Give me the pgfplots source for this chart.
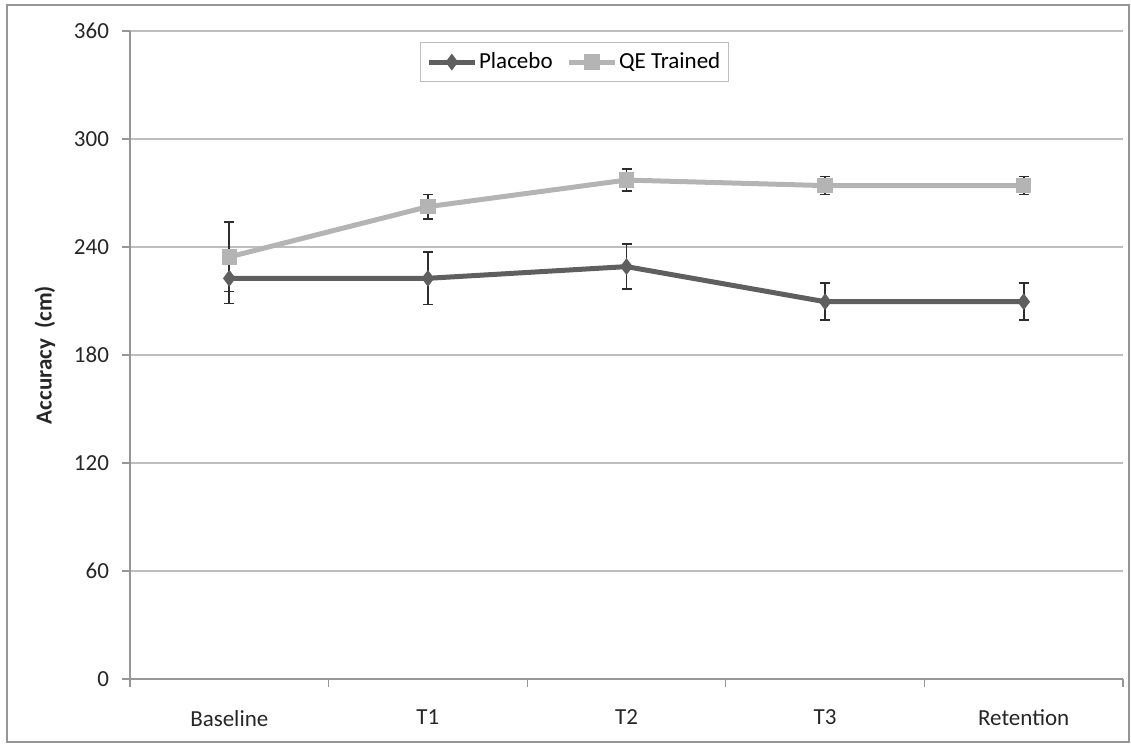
\documentclass[border=0pt]{standalone}
\usepackage{pgfplots}
\pgfplotsset{compat=1.18}
\usepackage{fontspec}
\setmainfont{Carlito}
\definecolor{placebo}{RGB}{95,95,95}
\definecolor{qe}{RGB}{180,180,180}
\definecolor{gridc}{RGB}{190,190,190}
\definecolor{axc}{RGB}{150,150,150}
\definecolor{errc}{RGB}{45,45,45}
\begin{document}
\begin{tikzpicture}
\useasboundingbox (0pt,0pt) rectangle (565.5pt,372pt);
\draw[axc, line width=1pt] (3.5pt,1pt) rectangle (564.5pt,369.5pt);
\begin{axis}[
  at={(65pt,32.5pt)}, anchor=south west,
  scale only axis, width=496.5pt, height=324pt,
  xmin=-0.5, xmax=4.5, ymin=0, ymax=360,
  ytick={0,60,...,360},
  xtick={0,1,2,3,4},
  xticklabels={Baseline,T1,T2,T3,Retention},
  minor xtick={-0.5,0.5,1.5,2.5,3.5,4.5},
  axis x line*=bottom, axis y line*=left,
  axis line style={axc, line width=0.6pt},
  ymajorgrids, grid style={gridc, line width=0.6pt},
  tick align=outside,
  major tick length=4pt, minor tick length=4pt,
  tick style={axc, line width=0.6pt},
  major x tick style={draw=none},
  minor x grid style={draw=none},
  ticklabel style={font=\fontsize{11.5}{13}\selectfont, text=black!85},
  /pgf/number format/assume math mode=true,
  yticklabel style={xshift=-3pt},
  xticklabel style={yshift=-8pt},
  legend style={at={(rel axis cs:0.292,0.983)}, anchor=north west,
    draw=gridc, line width=0.6pt, legend columns=2,
    font=\fontsize{11.5}{13}\selectfont, inner sep=3pt,
    nodes={inner xsep=1pt},
    /tikz/every even column/.append style={column sep=6pt}},
  legend image code/.code={\draw[#1, mark repeat=2, mark phase=2] plot coordinates {(0cm,0cm)(0.4cm,0cm)(0.8cm,0cm)};},
  error bars/error bar style={errc, line width=0.8pt},
  error bars/error mark options={rotate=90, mark size=2.5pt, errc, line width=0.8pt},
]
\addplot[placebo, line width=2.5pt, mark=diamond*, mark size=3.8pt, mark options={fill=placebo, draw=placebo, line width=0.5pt},
  error bars/.cd, y dir=both, y explicit]
coordinates {
 (0,222.6) +- (0,14.0)
 (1,222.6) +- (0,14.5)
 (2,229.1) +- (0,12.5)
 (3,209.6) +- (0,10.3)
 (4,209.6) +- (0,10.3)
};
\addlegendentry{Placebo}
\addplot[qe, line width=2.5pt, mark=square*, mark size=3.6pt, mark options={fill=qe, draw=qe, line width=0.5pt},
  error bars/.cd, y dir=both, y explicit]
coordinates {
 (0,234.5) +- (0,19.3)
 (1,262.4) +- (0,6.7)
 (2,277.2) +- (0,6.0)
 (3,274.1) +- (0,5.0)
 (4,274.1) +- (0,5.0)
};
\addlegendentry{QE Trained}
\end{axis}
\node[rotate=90, font=\fontsize{11.5}{13}\selectfont\bfseries, text=black!85] at (22.5pt,194.5pt) {Accuracy\ \ (cm)};
\end{tikzpicture}
\end{document}
